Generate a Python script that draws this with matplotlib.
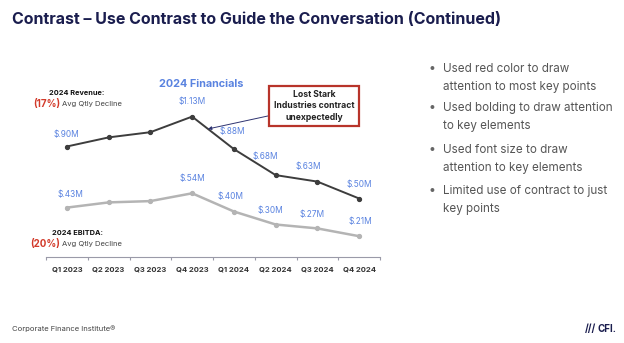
import matplotlib
matplotlib.use("Agg")
import matplotlib.pyplot as plt
from matplotlib.ticker import FixedLocator
import numpy as np

plt.rcParams['font.family'] = ['Inter', 'DejaVu Sans']

# data
quarters = ['Q1 2023', 'Q2 2023', 'Q3 2023', 'Q4 2023',
            'Q1 2024', 'Q2 2024', 'Q3 2024', 'Q4 2024']
revenue = [0.90, 0.97, 1.01, 1.13, 0.88, 0.68, 0.63, 0.50]
ebitda = [0.43, 0.47, 0.48, 0.54, 0.40, 0.30, 0.27, 0.21]
revenue_labels = ['$.90M', None, None, '$1.13M', '$.88M', '$.68M', '$.63M', '$.50M']
ebitda_labels = ['$.43M', None, None, '$.54M', '$.40M', '$.30M', '$.27M', '$.21M']
bullets = [
    ['Used red color to draw', 'attention to most key points'],
    ['Used bolding to draw attention', 'to key elements'],
    ['Used font size to draw', 'attention to key elements'],
    ['Limited use of contract to just', 'key points'],
]

# colours
NAVY = '#1a1d4e'
BLUE = '#5a83e0'
RED = '#d23a2a'
DARK = '#3d3d3d'
LIGHT = '#b4b4b4'

W, H = 624, 343
fig = plt.figure(figsize=(W / 100, H / 100), dpi=100)


def px(x, y):
    return x / W, 1 - y / H


# title
fig.text(*px(12, 20), 'Contrast \u2013 Use Contrast to Guide the Conversation (Continued)',
         fontsize=11.5, fontweight='bold', color=NAVY, va='center', ha='left')

# chart area
ax = fig.add_axes([46 / W, (H - 257) / H, 334 / W, 169 / H])
x = np.arange(len(quarters))
ax.plot(x, revenue, color=DARK, lw=1.4, marker='o', ms=2.8, zorder=3)
ax.plot(x, ebitda, color=LIGHT, lw=1.8, marker='o', ms=2.8, zorder=2)
ax.set_xlim(-0.5, len(quarters) - 0.5)
ax.set_ylim(0.05, 1.35)

for s in ['top', 'right', 'left']:
    ax.spines[s].set_visible(False)
ax.spines['bottom'].set_color('#9a9aa8')
ax.spines['bottom'].set_linewidth(0.8)
ax.set_yticks([])
ax.set_xticks(x)
ax.set_xticklabels(quarters, fontsize=5.5, fontweight='bold', color='#333333')
ax.tick_params(axis='x', which='major', length=0, pad=7)
ax.xaxis.set_minor_locator(FixedLocator(np.arange(-0.5, len(quarters), 1.0)))
ax.tick_params(axis='x', which='minor', length=2.5, color='#9a9aa8', width=0.8)

rev_off = [(0, 8), None, None, (0, 11), (-2, 13), (-10, 14), (-9, 11), (0, 10)]
ebt_off = [(4, 9), None, None, (0, 10), (-3, 10), (-5, 10), (-5, 9), (1, 10)]
for vals, labels, offs in [(revenue, revenue_labels, rev_off), (ebitda, ebitda_labels, ebt_off)]:
    for i, (v, lab) in enumerate(zip(vals, labels)):
        if lab is None:
            continue
        ax.annotate(lab, (i, v), xytext=offs[i], textcoords='offset pixels',
                    ha='center', va='bottom', fontsize=6, color=BLUE)

fig.text(*px(201, 84), '2024 Financials', ha='center', va='center',
         fontsize=7.8, fontweight='bold', color=BLUE)

# callout on the drop after Q4 2023
t = 0.38
ax_x = 3 + t
ax_y = revenue[3] + t * (revenue[4] - revenue[3])
box_x, box_y = px(314, 106)
ax.annotate('Lost Stark\nIndustries contract\nunexpectedly', xy=(ax_x, ax_y),
            xytext=(box_x, box_y), textcoords='figure fraction',
            ha='center', va='center', fontsize=6.2, fontweight='bold', color='#222222',
            linespacing=1.3, annotation_clip=False,
            bbox=dict(boxstyle='square,pad=0.5', fc='white', ec='#b8342a', lw=1.6),
            arrowprops=dict(arrowstyle='-|>', color='#2e3370', lw=0.7,
                            mutation_scale=5, shrinkA=0, shrinkB=0))

# side notes on the chart
fig.text(*px(77, 93), '2024 Revenue:', fontsize=5.3, fontweight='bold', color='#111111',
         ha='center', va='center')
fig.text(*px(60, 104), '(17%)', fontsize=7, fontweight='bold', color=RED, ha='right', va='center')
fig.text(*px(62, 104), 'Avg Qtly Decline', fontsize=5.5, color='#444444', ha='left', va='center')

fig.text(*px(77, 233), '2024 EBITDA:', fontsize=5.3, fontweight='bold', color='#111111',
         ha='center', va='center')
fig.text(*px(60, 244), '(20%)', fontsize=7, fontweight='bold', color=RED, ha='right', va='center')
fig.text(*px(62, 244), 'Avg Qtly Decline', fontsize=5.5, color='#444444', ha='left', va='center')

# bullets on the right
bullet_y = [69, 108, 150, 191]
for by, lines in zip(bullet_y, bullets):
    fig.text(*px(432, by), '\u2022', fontsize=9, color='#666666', ha='center', va='center')
    for k, line in enumerate(lines):
        fig.text(*px(443, by + 18 * k), line, fontsize=8.4, color='#555555',
                 ha='left', va='center')

# footer
fig.text(*px(12, 329), 'Corporate Finance Institute\u00ae', fontsize=5.5, color='#444444',
         ha='left', va='center')
fig.text(*px(596, 329), '///', fontsize=7, fontweight='bold', color=NAVY,
         ha='right', va='center')
fig.text(*px(597, 329), 'CFI.', fontsize=7, fontweight='bold', color=NAVY,
         ha='left', va='center')

fig.savefig('out.png', dpi=100)
